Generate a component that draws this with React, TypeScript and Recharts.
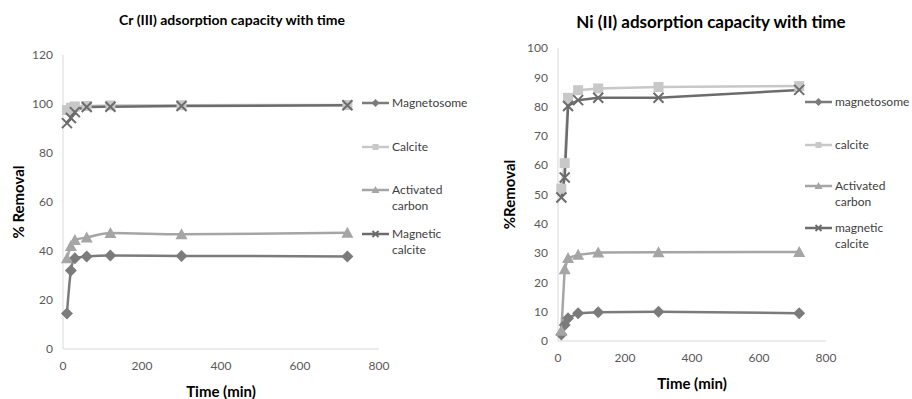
import React from 'react';
import { LineChart, Line, XAxis, YAxis, Label } from 'recharts';

const TIME_MIN = [10, 20, 30, 60, 120, 300, 720];
const X_TICKS = [0, 200, 400, 600, 800];

const CR_Y_TICKS = [0, 20, 40, 60, 80, 100, 120];
const CR_MAGNETOSOME = [14.5, 32, 37, 37.8, 38.2, 38, 37.8];
const CR_CALCITE = [97.5, 98.5, 99, 99.2, 99.4, 99.5, 99.6];
const CR_ACTIVATED = [37, 42, 44.5, 45.5, 47.3, 46.8, 47.4];
const CR_MAG_CALCITE = [92.2, 94.3, 96.7, 98.8, 98.9, 99.2, 99.5];

const NI_Y_TICKS = [0, 10, 20, 30, 40, 50, 60, 70, 80, 90, 100];
const NI_MAGNETOSOME = [2.2, 5.5, 7.8, 9.5, 9.8, 10, 9.5];
const NI_CALCITE = [52, 60.7, 83, 85.6, 86.2, 86.7, 87];
const NI_ACTIVATED = [3.5, 24.5, 28.3, 29.4, 30.2, 30.3, 30.4];
const NI_MAG_CALCITE = [49, 55.8, 80.2, 82.2, 83, 83, 85.7];

const CR_NAMES = ['Magnetosome', 'Calcite', 'Activated carbon', 'Magnetic calcite'];
const NI_NAMES = ['magnetosome', 'calcite', 'Activated carbon', 'magnetic calcite'];

const FONT = 'Lato, "Open Sans", sans-serif';
const AXIS_GREY = '#d9d9d9';
const TICK_GREY = '#595959';

type Shape = 'diamond' | 'square' | 'triangle' | 'x';

const SERIES: { key: string; color: string; shape: Shape }[] = [
  { key: 'magnetosome', color: '#7b7b7b', shape: 'diamond' },
  { key: 'calcite', color: '#c8c8c8', shape: 'square' },
  { key: 'activated', color: '#a5a5a5', shape: 'triangle' },
  { key: 'magCalcite', color: '#6c6c6c', shape: 'x' },
];

function buildRows(a: number[], b: number[], c: number[], d: number[]) {
  return TIME_MIN.map((t, i) => ({ t, magnetosome: a[i], calcite: b[i], activated: c[i], magCalcite: d[i] }));
}

const crData = buildRows(CR_MAGNETOSOME, CR_CALCITE, CR_ACTIVATED, CR_MAG_CALCITE);
const niData = buildRows(NI_MAGNETOSOME, NI_CALCITE, NI_ACTIVATED, NI_MAG_CALCITE);

function Marker({ cx, cy, shape, color, r = 6 }: { cx: number; cy: number; shape: Shape; color: string; r?: number }) {
  if (shape === 'diamond') {
    return <path d={`M${cx},${cy - r}L${cx + r},${cy}L${cx},${cy + r}L${cx - r},${cy}Z`} fill={color} />;
  }
  if (shape === 'square') {
    const h = r - 1;
    return <rect x={cx - h} y={cy - h} width={2 * h} height={2 * h} fill={color} />;
  }
  if (shape === 'triangle') {
    return <path d={`M${cx},${cy - r}L${cx + r},${cy + r - 1}L${cx - r},${cy + r - 1}Z`} fill={color} />;
  }
  const h = r - 1;
  return (
    <g stroke={color} strokeWidth={2}>
      <line x1={cx - h} y1={cy - h} x2={cx + h} y2={cy + h} />
      <line x1={cx - h} y1={cy + h} x2={cx + h} y2={cy - h} />
    </g>
  );
}

function makeDot(shape: Shape, color: string) {
  return (p: any) => {
    if (p.cx == null || p.cy == null) return <g key={p.index} />;
    return (
      <g key={`${shape}-${p.index}`}>
        <Marker cx={p.cx} cy={p.cy} shape={shape} color={color} />
      </g>
    );
  };
}

function LegendBox({ names, rowTops, left, top }: { names: string[]; rowTops: number[]; left: number; top: number }) {
  return (
    <div style={{ position: 'absolute', left, top, width: 110, height: 200, fontFamily: FONT, fontSize: 12, color: '#404040' }}>
      {SERIES.map((s, i) => (
        <div key={s.key} style={{ position: 'absolute', left: 0, top: rowTops[i], display: 'flex', alignItems: 'flex-start' }}>
          <svg width={28} height={14} style={{ flex: 'none', marginTop: 1 }}>
            <line x1={0} y1={7} x2={27} y2={7} stroke={s.color} strokeWidth={2.5} />
            <Marker cx={13.5} cy={7} shape={s.shape} color={s.color} r={4} />
          </svg>
          <div style={{ marginLeft: 2, lineHeight: '16px', width: 76 }}>{names[i]}</div>
        </div>
      ))}
    </div>
  );
}

interface PanelProps {
  data: any[];
  width: number;
  yTicks: number[];
  yMax: number;
  yWidth: number;
  labelDx: number;
  xLabelOffset: number;
  margin: { top: number; right: number; bottom: number; left: number };
  yLabel: string;
  curve: 'monotone' | 'linear';
}

function Panel(p: PanelProps) {
  return (
    <LineChart width={p.width} height={399} data={p.data} margin={p.margin}>
      <XAxis
        dataKey="t"
        type="number"
        domain={[0, 800]}
        ticks={X_TICKS}
        stroke={AXIS_GREY}
        tickLine={false}
        tickSize={10}
        height={30}
        tick={{ fill: TICK_GREY, fontSize: 12, fontFamily: FONT }}
      >
        <Label value="Time (min)" position="insideBottom" offset={p.xLabelOffset} style={{ fontFamily: FONT, fontSize: 15, fontWeight: 700, fill: '#000' }} />
      </XAxis>
      <YAxis
        type="number"
        domain={[0, p.yMax]}
        ticks={p.yTicks}
        stroke={AXIS_GREY}
        tickLine={false}
        tickSize={8}
        width={p.yWidth}
        tick={{ fill: TICK_GREY, fontSize: 12, fontFamily: FONT }}
      >
        <Label value={p.yLabel} angle={-90} position="insideLeft" offset={p.labelDx} style={{ textAnchor: 'middle', fontFamily: FONT, fontSize: 15, fontWeight: 700, fill: '#000' }} />
      </YAxis>
      {SERIES.map(s => (
        <Line
          key={s.key}
          type={p.curve}
          dataKey={s.key}
          stroke={s.color}
          strokeWidth={2.5}
          dot={makeDot(s.shape, s.color)}
          activeDot={false}
          isAnimationActive={false}
        />
      ))}
    </LineChart>
  );
}

export default function App() {
  return (
    <div style={{ position: 'fixed', left: 0, top: 0, width: 912, height: 399, background: '#fff', overflow: 'hidden' }}>
      <div style={{ position: 'absolute', left: 0, top: 0 }}>
        <Panel
          data={crData}
          width={460}
          yTicks={CR_Y_TICKS}
          yMax={120}
          yWidth={63}
          labelDx={19}
          xLabelOffset={-18}
          margin={{ top: 55, right: 81, bottom: 20, left: 0 }}
          yLabel="% Removal"
          curve="monotone"
        />
      </div>
      <div style={{ position: 'absolute', left: 460, top: 0 }}>
        <Panel
          data={niData}
          width={452}
          yTicks={NI_Y_TICKS}
          yMax={100}
          yWidth={98}
          labelDx={50}
          xLabelOffset={-18}
          margin={{ top: 48, right: 86, bottom: 28, left: 0 }}
          yLabel="%Removal"
          curve="linear"
        />
      </div>
      <LegendBox names={CR_NAMES} rowTops={[0, 44, 87, 131]} left={362} top={95} />
      <LegendBox names={NI_NAMES} rowTops={[0, 43, 84, 126]} left={805} top={94} />
      <div style={{ position: 'absolute', left: 232, top: 19, transform: 'translate(-50%, -50%)', whiteSpace: 'nowrap', fontFamily: FONT, fontSize: 14, fontWeight: 700, color: '#000' }}>
        Cr (III) adsorption capacity with time
      </div>
      <div style={{ position: 'absolute', left: 711, top: 21, transform: 'translate(-50%, -50%)', whiteSpace: 'nowrap', fontFamily: FONT, fontSize: 17, fontWeight: 700, color: '#000' }}>
        Ni (II) adsorption capacity with time
      </div>
    </div>
  );
}
